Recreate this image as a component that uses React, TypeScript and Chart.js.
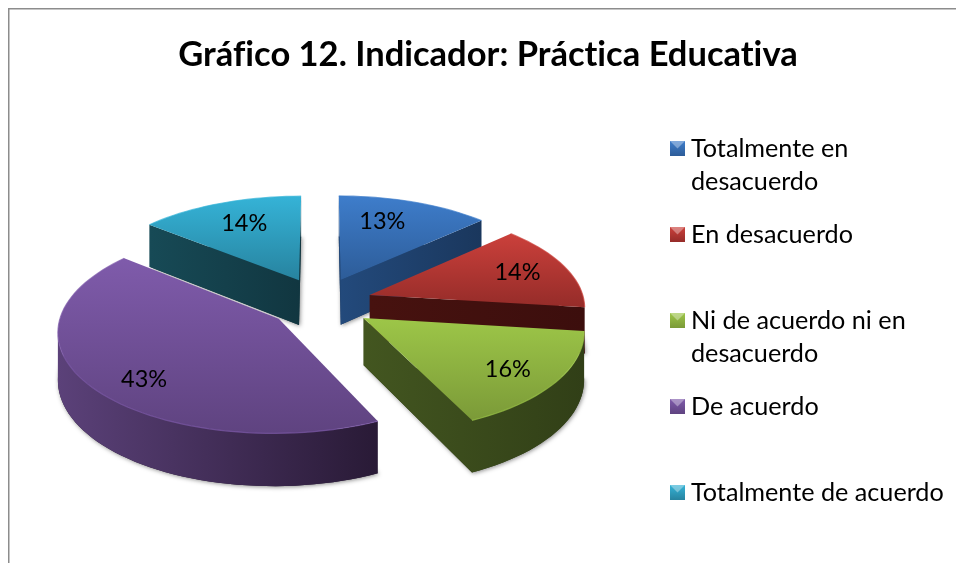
import React, { useEffect, useRef } from "react";
import { Chart, registerables } from "chart.js";

Chart.register(...registerables);

const titleText = "Gráfico 12. Indicador: Práctica Educativa";
const categories = [
  "Totalmente en desacuerdo",
  "En desacuerdo",
  "Ni de acuerdo ni en desacuerdo",
  "De acuerdo",
  "Totalmente de acuerdo",
];
const legendLines = [
  ["Totalmente en", "desacuerdo"],
  ["En desacuerdo"],
  ["Ni de acuerdo ni en", "desacuerdo"],
  ["De acuerdo"],
  ["Totalmente de acuerdo"],
];
const values = [13, 14, 16, 43, 14];
const topLight = ["#3e7dcb", "#cb403b", "#9dc648", "#7f5bab", "#35b3d7"];
const topDark = ["#2d5c98", "#952c29", "#7b9a38", "#5f4380", "#27839f"];
const wallLight = ["#234a7c", "#47120f", "#435620", "#5b4179", "#174a56"];
const wallDark = ["#1a375d", "#3c0e0d", "#313f17", "#291a36", "#113640"];
const drawOrder = [0, 4, 1, 2, 3];
const labelNudge = [[-14, 3], [3, 0], [4, 2], [3, 9], [5, 4]];

const CX = 320.6;
const CY = 302.8;
const TILT = 0.456;
const DEPTH = 1937;
const HEIGHT = 46;
const EXPLODE = 52;
const EXPLODE_V = 1.08;
const FONT = "Lato, 'Open Sans', sans-serif";

function project(u: number, v: number, z: number) {
  const s = 1 / (1 + v / DEPTH);
  return { x: CX + u * s, y: CY - TILT * v * s + z * s };
}

const pie3d = {
  id: "pie3d",
  beforeDraw(chart: any) {
    const { ctx, width, height } = chart;
    ctx.textRendering = "optimizeSpeed";
    ctx.save();
    ctx.fillStyle = "#ffffff";
    ctx.fillRect(0, 0, width, height);
    ctx.strokeStyle = "#8c8c8c";
    ctx.lineWidth = 1.5;
    ctx.beginPath();
    ctx.moveTo(8.75, height);
    ctx.lineTo(8.75, 8.75);
    ctx.lineTo(width, 8.75);
    ctx.stroke();
    ctx.restore();
  },
  beforeDatasetsDraw(chart: any) {
    const { ctx } = chart;
    const arcs = chart.getDatasetMeta(0).data;
    ctx.save();
    drawOrder.forEach((i) => {
      const arc = arcs[i];
      const { startAngle, endAngle, outerRadius } = arc;
      const mid = (startAngle + endAngle) / 2;
      const ou = Math.cos(mid) * EXPLODE;
      const ov = -Math.sin(mid) * EXPLODE * EXPLODE_V;
      const ground: { u: number; v: number }[] = [{ u: ou, v: ov }];
      const steps = Math.max(8, Math.round(((endAngle - startAngle) / Math.PI) * 80));
      for (let k = 0; k <= steps; k++) {
        const a = startAngle + ((endAngle - startAngle) * k) / steps;
        ground.push({ u: ou + Math.cos(a) * outerRadius, v: ov - Math.sin(a) * outerRadius });
      }
      const top = ground.map((p) => project(p.u, p.v, 0));
      const bottom = ground.map((p) => project(p.u, p.v, HEIGHT));
      const xs = top.map((p) => p.x);
      const ys = top.map((p) => p.y);
      const minX = Math.min(...xs);
      const maxX = Math.max(...xs);
      const minY = Math.min(...ys);
      const maxY = Math.max(...ys);

      // soft shadow under the slice
      ctx.save();
      ctx.shadowColor = "rgba(0,0,0,0.45)";
      ctx.shadowBlur = 4;
      ctx.shadowOffsetX = 1;
      ctx.shadowOffsetY = 1;
      ctx.fillStyle = wallDark[i];
      ctx.beginPath();
      bottom.forEach((p, k) => (k ? ctx.lineTo(p.x, p.y) : ctx.moveTo(p.x, p.y)));
      ctx.closePath();
      ctx.fill();
      ctx.restore();

      // walls facing the viewer, one path per run of edges
      const wallGrad = ctx.createLinearGradient(minX, 0, maxX, 0);
      wallGrad.addColorStop(0, wallLight[i]);
      wallGrad.addColorStop(1, wallDark[i]);
      ctx.fillStyle = wallGrad;
      const n = top.length;
      let run: number[] = [];
      const flush = () => {
        if (run.length < 2) {
          run = [];
          return;
        }
        ctx.beginPath();
        run.forEach((idx, k) => (k ? ctx.lineTo(top[idx].x, top[idx].y) : ctx.moveTo(top[idx].x, top[idx].y)));
        [...run].reverse().forEach((idx) => ctx.lineTo(bottom[idx].x, bottom[idx].y));
        ctx.closePath();
        ctx.fill();
        run = [];
      };
      for (let k = 0; k < n; k++) {
        const j = (k + 1) % n;
        if (top[j].x < top[k].x) {
          if (!run.length) run.push(k);
          run.push(j);
        } else {
          flush();
        }
      }
      flush();

      // top face
      const topGrad = ctx.createLinearGradient(0, minY, 0, maxY);
      topGrad.addColorStop(0, topLight[i]);
      topGrad.addColorStop(1, topDark[i]);
      ctx.fillStyle = topGrad;
      ctx.beginPath();
      top.forEach((p, k) => (k ? ctx.lineTo(p.x, p.y) : ctx.moveTo(p.x, p.y)));
      ctx.closePath();
      ctx.fill();

      // bevel rim along the outer edge
      ctx.strokeStyle = topLight[i];
      ctx.globalAlpha = 0.7;
      ctx.lineWidth = 1.2;
      ctx.beginPath();
      top.slice(1).forEach((p, k) => (k ? ctx.lineTo(p.x, p.y) : ctx.moveTo(p.x, p.y)));
      ctx.stroke();
      ctx.globalAlpha = 1;
    });
    ctx.restore();
    return false;
  },
  afterDraw(chart: any) {
    const { ctx } = chart;
    const arcs = chart.getDatasetMeta(0).data;
    const total = values.reduce((a, b) => a + b, 0);
    ctx.save();
    ctx.fillStyle = "#000000";
    ctx.textBaseline = "middle";
    ctx.textAlign = "center";
    ctx.font = `23.5px ${FONT}`;
    arcs.forEach((arc: any, i: number) => {
      const mid = (arc.startAngle + arc.endAngle) / 2;
      const u = Math.cos(mid) * (EXPLODE + arc.outerRadius * 0.74);
      const v = -Math.sin(mid) * (EXPLODE * EXPLODE_V + arc.outerRadius * 0.78);
      const p = project(u, v, 0);
      ctx.fillText(
        `${Math.round((values[i] / total) * 100)}%`,
        p.x + labelNudge[i][0],
        p.y + labelNudge[i][1]
      );
    });

    // legend
    ctx.textAlign = "left";
    ctx.font = `25.2px ${FONT}`;
    legendLines.forEach((lines, i) => {
      const y0 = 148 + 86 * i;
      const mx = 670;
      const my = y0 - 7;
      const size = 15;
      const g = ctx.createLinearGradient(0, my, 0, my + size);
      g.addColorStop(0, topLight[i]);
      g.addColorStop(1, topDark[i]);
      ctx.fillStyle = g;
      ctx.fillRect(mx, my, size, size);
      ctx.fillStyle = "rgba(255,255,255,0.35)";
      ctx.beginPath();
      ctx.moveTo(mx, my);
      ctx.lineTo(mx + size, my);
      ctx.lineTo(mx + size / 2, my + size / 2);
      ctx.closePath();
      ctx.fill();
      ctx.fillStyle = "#000000";
      lines.forEach((line, k) => ctx.fillText(line, 691, y0 + 1 + k * 33));
    });
    ctx.restore();
  },
};

export default function App() {
  const ref = useRef<HTMLCanvasElement | null>(null);
  useEffect(() => {
    if (!ref.current) return;
    const chart = new Chart(ref.current, {
      type: "pie",
      data: {
        labels: categories,
        datasets: [{ data: values, backgroundColor: topLight, borderWidth: 0 }],
      },
      options: {
        responsive: false,
        animation: false,
        layout: { padding: { left: 20, right: 0, top: 0, bottom: 52 } },
        plugins: {
          legend: { display: false },
          tooltip: { enabled: false },
          title: {
            display: true,
            text: titleText,
            color: "#000000",
            font: { family: FONT, size: 34.5, weight: "bold", lineHeight: 1.2 },
            padding: { top: 34.5, bottom: 5.1 },
          },
        },
      },
      plugins: [pie3d],
    } as any);
    return () => chart.destroy();
  }, []);
  return (
    <canvas
      ref={ref}
      width={956}
      height={563}
      style={{ position: "fixed", left: 0, top: 0, width: 956, height: 563, display: "block" }}
    />
  );
}
